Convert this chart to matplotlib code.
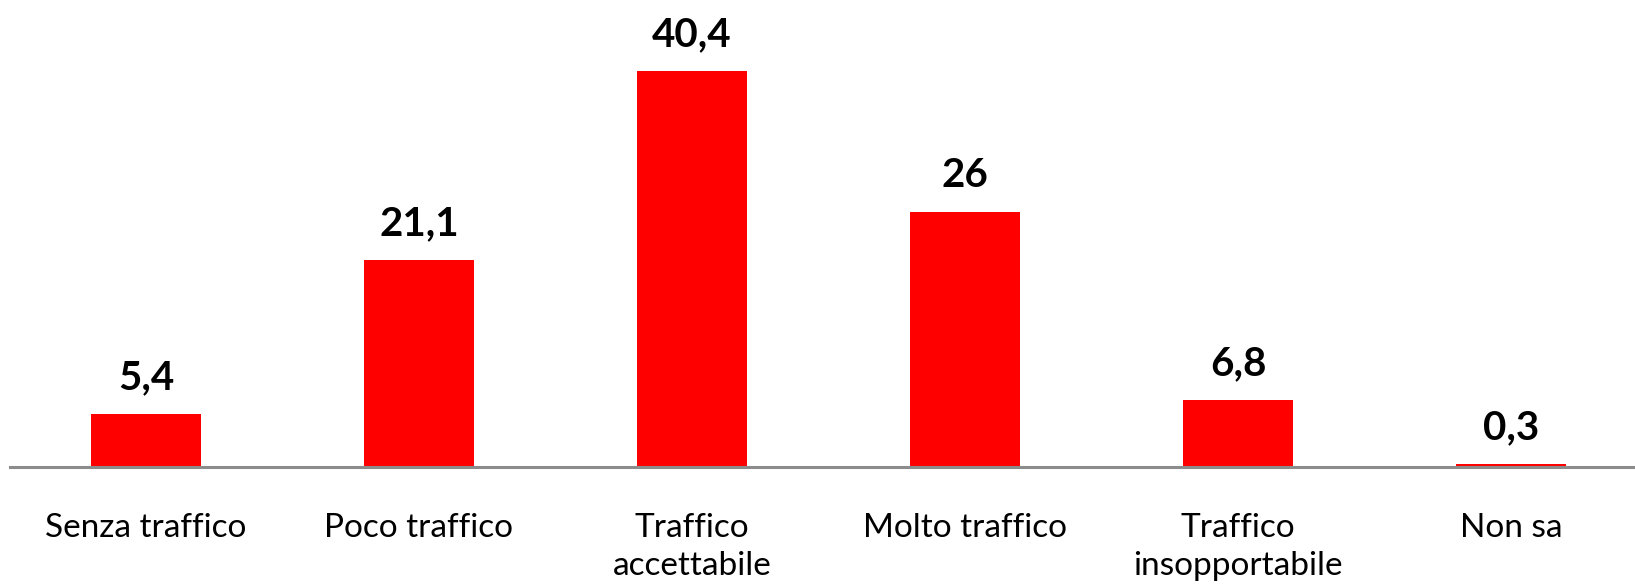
import numpy as np
import matplotlib.pyplot as plt

categories = ["Senza traffico", "Poco traffico", "Traffico\naccettabile",
              "Molto traffico", "Traffico\ninsopportabile", "Non sa"]
values = [5.4, 21.1, 40.4, 26, 6.8, 0.3]
value_labels = ["5,4", "21,1", "40,4", "26", "6,8", "0,3"]

plt.rcParams['font.family'] = ['Lato', 'DejaVu Sans']

fig = plt.figure(figsize=(16.35, 5.88), dpi=100)
ax = fig.add_axes([9.5 / 1635, 121 / 588, 1638 / 1635, 467 / 588])

x = np.arange(len(categories))
ax.bar(x, values, width=0.40, color="#ff0000")

for xi, v, lab in zip(x, values, value_labels):
    ax.annotate(lab, (xi, v), xytext=(0, 18), textcoords="offset points",
                ha="center", va="baseline", fontsize=29, fontweight="bold")

ax.set_xlim(-0.5, 5.5)
ax.set_ylim(0, 47.65)
ax.set_xticks(x)
ax.set_xticklabels(categories, fontsize=24, va="top", linespacing=1.32)
ax.tick_params(axis="x", length=0, pad=33)
ax.set_yticks([])

for s in ["top", "right", "left"]:
    ax.spines[s].set_visible(False)
ax.spines["bottom"].set_color("#8c8c8c")
ax.spines["bottom"].set_linewidth(2.2)

fig.savefig("out.png", dpi=100)
